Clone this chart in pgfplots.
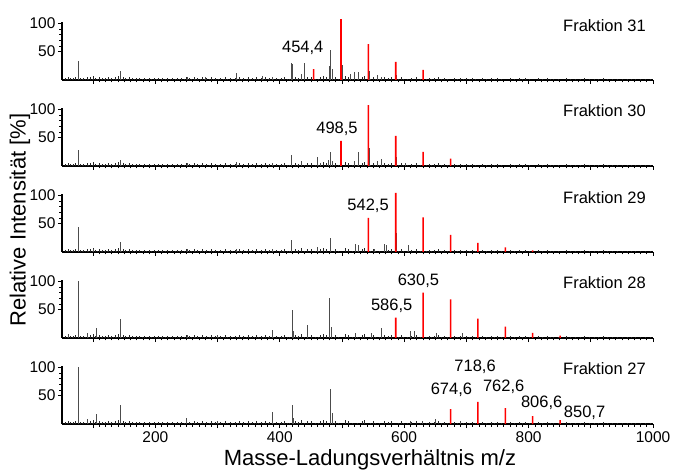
\documentclass[border=0pt]{standalone}
\usepackage{fontspec}
\setmainfont{Liberation Sans}
\usepackage{pgfplots}
\usepackage{pgfplotstable}
\pgfplotsset{compat=1.18}

\pgfplotstableread{
x y
55 3.5
58 2
60 5
63 3.5
66 2
68 3
72 5
77 2
80 3.5
83 2
85 3
88 2
90 5
93 2
95 4.5
98 2
100 7
103 3.5
107 2
110 5
113 2
115 3.5
118 2
120 3
123 2
125 5
128 2
130 3.5
133 2
135 4.5
138 2
140 7
145 2
148 5
152 3.5
155 2
158 5
163 3
167 2
170 3.5
175 3
179 2
182 3.5
186 2
190 3
194 2
198 3.5
202 2
205 3
209 2
212 3.5
216 2
220 3
224 2
228 3.5
232 2
235 3
239 2
242 3.5
246 2
250 5
255 3.5
258 2
262 5
265 2
268 3.5
272 2
275 6
279 2
282 3.5
286 2
290 4.5
294 2
297 3
301 2
305 3.5
309 2
312 4.5
316 2
320 3
324 2
328 3.5
332 2
335 5
338 2
342 3.5
346 2
350 4.5
353 2
356 3
359 2
362 5
366 2
370 3.5
374 2
377 5
381 2
384 3.5
390 2
395 3.5
399 2
402 3
405 2
408 4.5
412 2
415 2
425 5
428 2
430 3.5
435 7
440 2
445 5
450 4.5
457 2
462 2
465 5
470 7
475 5
488 2
490 5
494 2
505 7
510 5
517 2
524 2
532 5
536 7
546 2
550 5
554 2
560 2
568 5
575 3.5
580 5
591 2
595 4.5
599 2
605 2
612 3.5
620 5
626 2
635 2
640 3.5
644 2
648 3.5
655 4.5
660 2
665 3.5
670 2
680 3.5
685 2
690 3.5
695 2
700 3
705 2
710 3.5
715 2
725 3
732 2
740 3
745 2
750 3.5
756 2
770 3
777 2
785 3
790 2
795 3.5
801 2
815 3
822 2
830 3
835 2
840 2
848 2
860 3
867 2
875 2
883 2
890 3
897 2
905 2
912 2
920 3
927 2
935 2
942 2
950 2
958 2
965 2
972 2
980 2
987 2
995 2
}\noise

\tikzset{lab/.style={font=\fontsize{16.5}{18}\selectfont}}
\pgfplotsset{
  panel/.style={
    scale only axis, width=591pt, height=58pt,
    xmin=50, xmax=1000, ymin=0, ymax=102,
    axis lines*=left, clip=false,
    axis line style={black, line width=1.2pt},
    xtick={100,200,...,1000}, minor x tick num=9,
    ytick={50,100}, minor y tick num=4,
    tick align=outside,
    major tick length=4pt, minor tick length=2.5pt,
    tick style={black, line width=0.6pt},
    xticklabels={},
    /pgf/number format/assume math mode=true,
    tick label style={font=\fontsize{15.5}{16}\selectfont},
    yticklabel style={xshift=1pt},
  },
  noisep/.style={ycomb, black!85, line width=0.6pt, no markers},
  blackp/.style={ycomb, black!70, line width=0.7pt, no markers},
  redp/.style={ybar, bar width=1.6pt, bar shift=0pt, fill=red, draw=none, no markers},
}

\begin{document}
\begin{tikzpicture}
\path[use as bounding box] (-62pt,80pt) rectangle (612pt,-390pt);

% Fraktion 31
\begin{axis}[panel, at={(0pt,0pt)}, anchor=south west]
\addplot[noisep] table {\noise};
\addplot[blackp] coordinates {(75.6,33) (143,16) (252,6) (280,5) (330,12) (372,7) (388,6) (418,30) (421,29) (434,10) (439,30) (479,25) (482,53) (484,20) (501,26) (514,10) (520,14) (527,14) (543.5,16) (557,9) (563,6) (588,8)};
\addplot[redp] coordinates {(454.4,19) (498.5,107) (542.5,63) (586.5,32) (630.5,18)};
\node[lab] at (axis cs:437,56) {454,4};
\node[lab, anchor=east] at (axis cs:994,96) {Fraktion 31};
\end{axis}

% Fraktion 30
\begin{axis}[panel, at={(0pt,-86pt)}, anchor=south west]
\addplot[noisep] table {\noise};
\addplot[blackp] coordinates {(75.6,29) (143,11) (252,5) (330,7) (388,6) (418,20) (434,8) (460,15) (466,6) (478,11) (482,25) (485,8) (520,9) (527,24) (543.5,31) (557,9) (563,13) (588,16) (602,6)};
\addplot[redp] coordinates {(498.5,44) (542.5,107) (586.5,53) (630.5,25) (674.6,13)};
\node[lab] at (axis cs:492,65) {498,5};
\node[lab, anchor=east] at (axis cs:994,98) {Fraktion 30};
\end{axis}

% Fraktion 29
\begin{axis}[panel, at={(0pt,-172pt)}, anchor=south west]
\addplot[noisep] table {\noise};
\addplot[blackp] coordinates {(75.6,44) (100,5) (143,18) (252,5) (330,6) (388,6) (418,21) (460,8) (482,25) (522,14) (527,12) (552,6) (568,14) (572,12) (588,33) (607,12) (631.5,21)};
\addplot[redp] coordinates {(542.5,60) (586.5,104) (630.5,61) (674.6,30) (718.6,16) (762.6,8) (806.6,3)};
\node[lab] at (axis cs:542,82) {542,5};
\node[lab, anchor=east] at (axis cs:994,96) {Fraktion 29};
\end{axis}

% Fraktion 28
\begin{axis}[panel, at={(0pt,-258pt)}, anchor=south west]
\addplot[noisep] table {\noise};
\addplot[blackp] coordinates {(60,7) (75.6,100) (91,8) (106,18) (143,34) (252,6) (300,5) (388,14) (420,50) (422,12) (444,23) (480,71) (483,20) (522,8) (548,8) (563,18) (610,12) (617,12) (631.5,27) (651,8) (694,8)};
\addplot[redp] coordinates {(586.5,36) (630.5,80) (674.6,68) (718.6,34) (762.6,20) (806.6,9) (850.7,4)};
\node[lab] at (axis cs:580,57) {586,5};
\node[lab] at (axis cs:623,100) {630,5};
\node[lab, anchor=east] at (axis cs:994,98) {Fraktion 28};
\end{axis}

% Fraktion 27
\begin{axis}[panel, at={(0pt,-344pt)}, anchor=south west,
  xticklabels={,200,,400,,600,,800,,1000}]
\addplot[noisep] table {\noise};
\addplot[blackp] coordinates {(75.6,100) (91,8) (106,18) (143,33) (250,10) (300,6) (388,21) (420,33) (422,10) (482,61) (485,20) (610,6) (630,5) (650,8) (690,5)};
\addplot[redp] coordinates {(674.6,26) (718.6,39) (762.6,28) (806.6,14) (850.7,7)};
\node[lab] at (axis cs:676,60) {674,6};
\node[lab] at (axis cs:714,100) {718,6};
\node[lab] at (axis cs:760,65) {762,6};
\node[lab] at (axis cs:821,37) {806,6};
\node[lab] at (axis cs:890,19) {850,7};
\node[lab, anchor=east] at (axis cs:994,97) {Fraktion 27};
\end{axis}

\node[font=\fontsize{22}{24}\selectfont] at (308pt,-380pt) {Masse-Ladungsverhältnis m/z};
\node[font=\fontsize{22}{24}\selectfont, rotate=90] at (-42pt,-140pt) {Relative Intensität [\%]};
\end{tikzpicture}
\end{document}
